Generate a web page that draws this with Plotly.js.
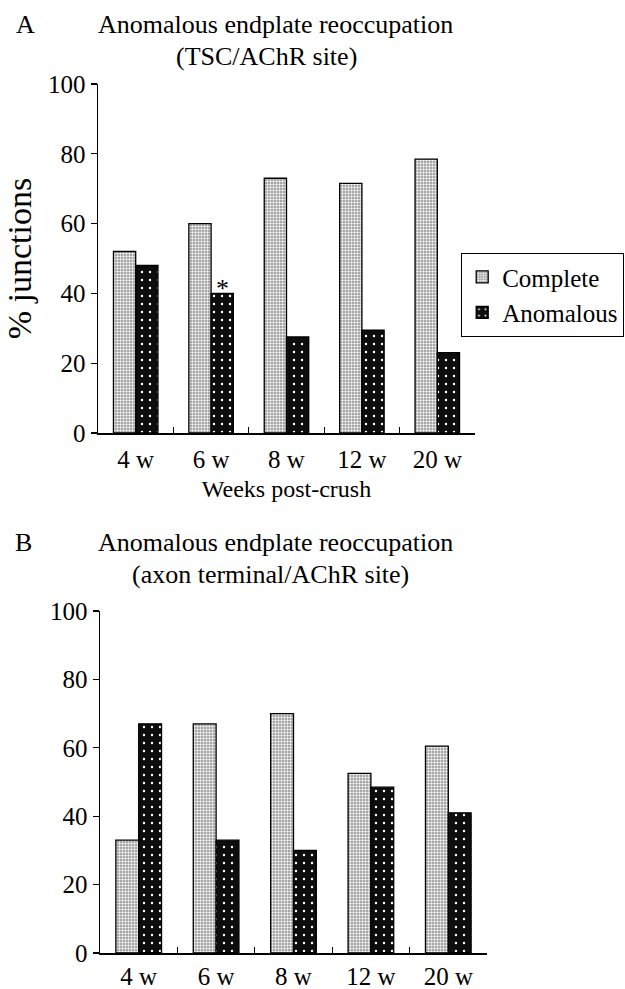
<!DOCTYPE html>
<html>
<head>
<meta charset="utf-8">
<script src="https://cdn.plot.ly/plotly-3.0.1.min.js"></script>
<style>html,body{margin:0;padding:0;background:#fff;}#chart{width:625px;height:989px;}</style>
</head>
<body>
<div id="chart"></div>
<script>
// ---- data ----
const categories = ['4 w', '6 w', '8 w', '12 w', '20 w'];
const completeA = [52, 60, 73, 71.5, 78.5];
const anomalousA = [48, 40, 27.5, 29.5, 23];
const completeB = [33, 67, 70, 52.5, 60.5];
const anomalousB = [67, 33, 30, 48.5, 41];
const yTicks = [0, 20, 40, 60, 80, 100];
const seriesNames = ['Complete', 'Anomalous'];
const titleLine1 = 'Anomalous endplate reoccupation';
const subtitleA = '(TSC/AChR site)';
const subtitleB = '(axon terminal/AChR site)';
const starCategory = '6 w';

// ---- styling ----
const W = 625, H = 989;
const px = v => v / W;
const py = v => 1 - v / H;
const FONT = 'Liberation Serif';

const completeMarker = {
  color: '#9a9a9a',
  line: {color: '#000', width: 1.3},
  pattern: {shape: '.', bgcolor: '#8f8f8f', fgcolor: '#f4f4f4', size: 3, solidity: 0.5}
};
const anomalousMarker = {
  color: '#111',
  line: {color: '#000', width: 1.3},
  pattern: {shape: '.', bgcolor: '#0d0d0d', fgcolor: '#fff', size: 8, solidity: 0.07}
};

const traces = [
  {type: 'bar', x: categories, y: completeA, name: seriesNames[0], xaxis: 'x', yaxis: 'y',
   marker: completeMarker, legendgroup: 'c'},
  {type: 'bar', x: categories, y: anomalousA, name: seriesNames[1], xaxis: 'x', yaxis: 'y',
   marker: anomalousMarker, legendgroup: 'a'},
  {type: 'bar', x: categories, y: completeB, name: seriesNames[0], xaxis: 'x2', yaxis: 'y2',
   marker: completeMarker, legendgroup: 'c', showlegend: false},
  {type: 'bar', x: categories, y: anomalousB, name: seriesNames[1], xaxis: 'x2', yaxis: 'y2',
   marker: anomalousMarker, legendgroup: 'a', showlegend: false}
];

const xAxisCommon = {
  type: 'category', showgrid: false, zeroline: false,
  showline: true, linecolor: '#000', linewidth: 1.5,
  ticks: 'inside', tickson: 'boundaries', ticklen: 6, tickcolor: '#000', tickwidth: 1.2,
  tickfont: {family: FONT, size: 25, color: '#000'}
};
const yAxisCommon = {
  range: [0, 100], tickvals: yTicks, showgrid: false, zeroline: false,
  showline: true, linecolor: '#000', linewidth: 1.5,
  ticks: 'outside', ticklen: 6, tickcolor: '#000', tickwidth: 1.2,
  tickfont: {family: FONT, size: 25, color: '#000'}, ticklabelstandoff: 0
};

const starIdx = categories.indexOf(starCategory);
const bargap = 0.41;
const barOffset = (1 - bargap) / 4; // centre of the 2nd bar in a group

const titleFont = {family: FONT, size: 26, color: '#000'};

const layout = {
  width: W, height: H,
  margin: {l: 0, r: 0, t: 0, b: 0},
  paper_bgcolor: '#fff', plot_bgcolor: '#fff',
  barmode: 'group', bargap: bargap, bargroupgap: 0,
  font: {family: FONT, color: '#000'},
  showlegend: true,
  legend: {
    x: px(624), y: py(253), xanchor: 'right', yanchor: 'top',
    bordercolor: '#000', borderwidth: 1.2, bgcolor: '#fff',
    font: {family: FONT, size: 25, color: '#000'},
    itemwidth: 30, tracegroupgap: 0
  },
  xaxis: Object.assign({}, xAxisCommon, {domain: [px(98), px(475)], anchor: 'y', ticklabelstandoff: 3,
    title: {text: 'Weeks post-crush', font: {family: FONT, size: 24, color: '#000'}, standoff: 8}}),
  yaxis: Object.assign({}, yAxisCommon, {domain: [py(433), py(84)], anchor: 'x',
    title: {text: '% junctions', font: {family: FONT, size: 34, color: '#000'}, standoff: 6}}),
  xaxis2: Object.assign({}, xAxisCommon, {domain: [px(100), px(487)], anchor: 'y2', ticklabelstandoff: 0}),
  yaxis2: Object.assign({}, yAxisCommon, {domain: [py(953), py(611)], anchor: 'x2'}),
  annotations: [
    {text: 'A', xref: 'paper', yref: 'paper', x: px(25), y: py(25), showarrow: false,
     xanchor: 'center', yanchor: 'middle', font: titleFont},
    {text: titleLine1, xref: 'paper', yref: 'paper', x: px(275), y: py(25), showarrow: false,
     xanchor: 'center', yanchor: 'middle', font: titleFont},
    {text: subtitleA, xref: 'paper', yref: 'paper', x: px(266), y: py(56), showarrow: false,
     xanchor: 'center', yanchor: 'middle', font: titleFont},
    {text: 'B', xref: 'paper', yref: 'paper', x: px(24), y: py(542), showarrow: false,
     xanchor: 'center', yanchor: 'middle', font: titleFont},
    {text: titleLine1, xref: 'paper', yref: 'paper', x: px(275), y: py(542), showarrow: false,
     xanchor: 'center', yanchor: 'middle', font: titleFont},
    {text: subtitleB, xref: 'paper', yref: 'paper', x: px(270), y: py(574), showarrow: false,
     xanchor: 'center', yanchor: 'middle', font: titleFont},
    {text: '*', xref: 'x', yref: 'y', x: starIdx + barOffset, y: anomalousA[starIdx],
     showarrow: false, xanchor: 'center', yanchor: 'bottom', yshift: -12,
     font: {family: FONT, size: 26, color: '#000'}}
  ]
};

Plotly.newPlot('chart', traces, layout, {staticPlot: true});
</script>
</body>
</html>
